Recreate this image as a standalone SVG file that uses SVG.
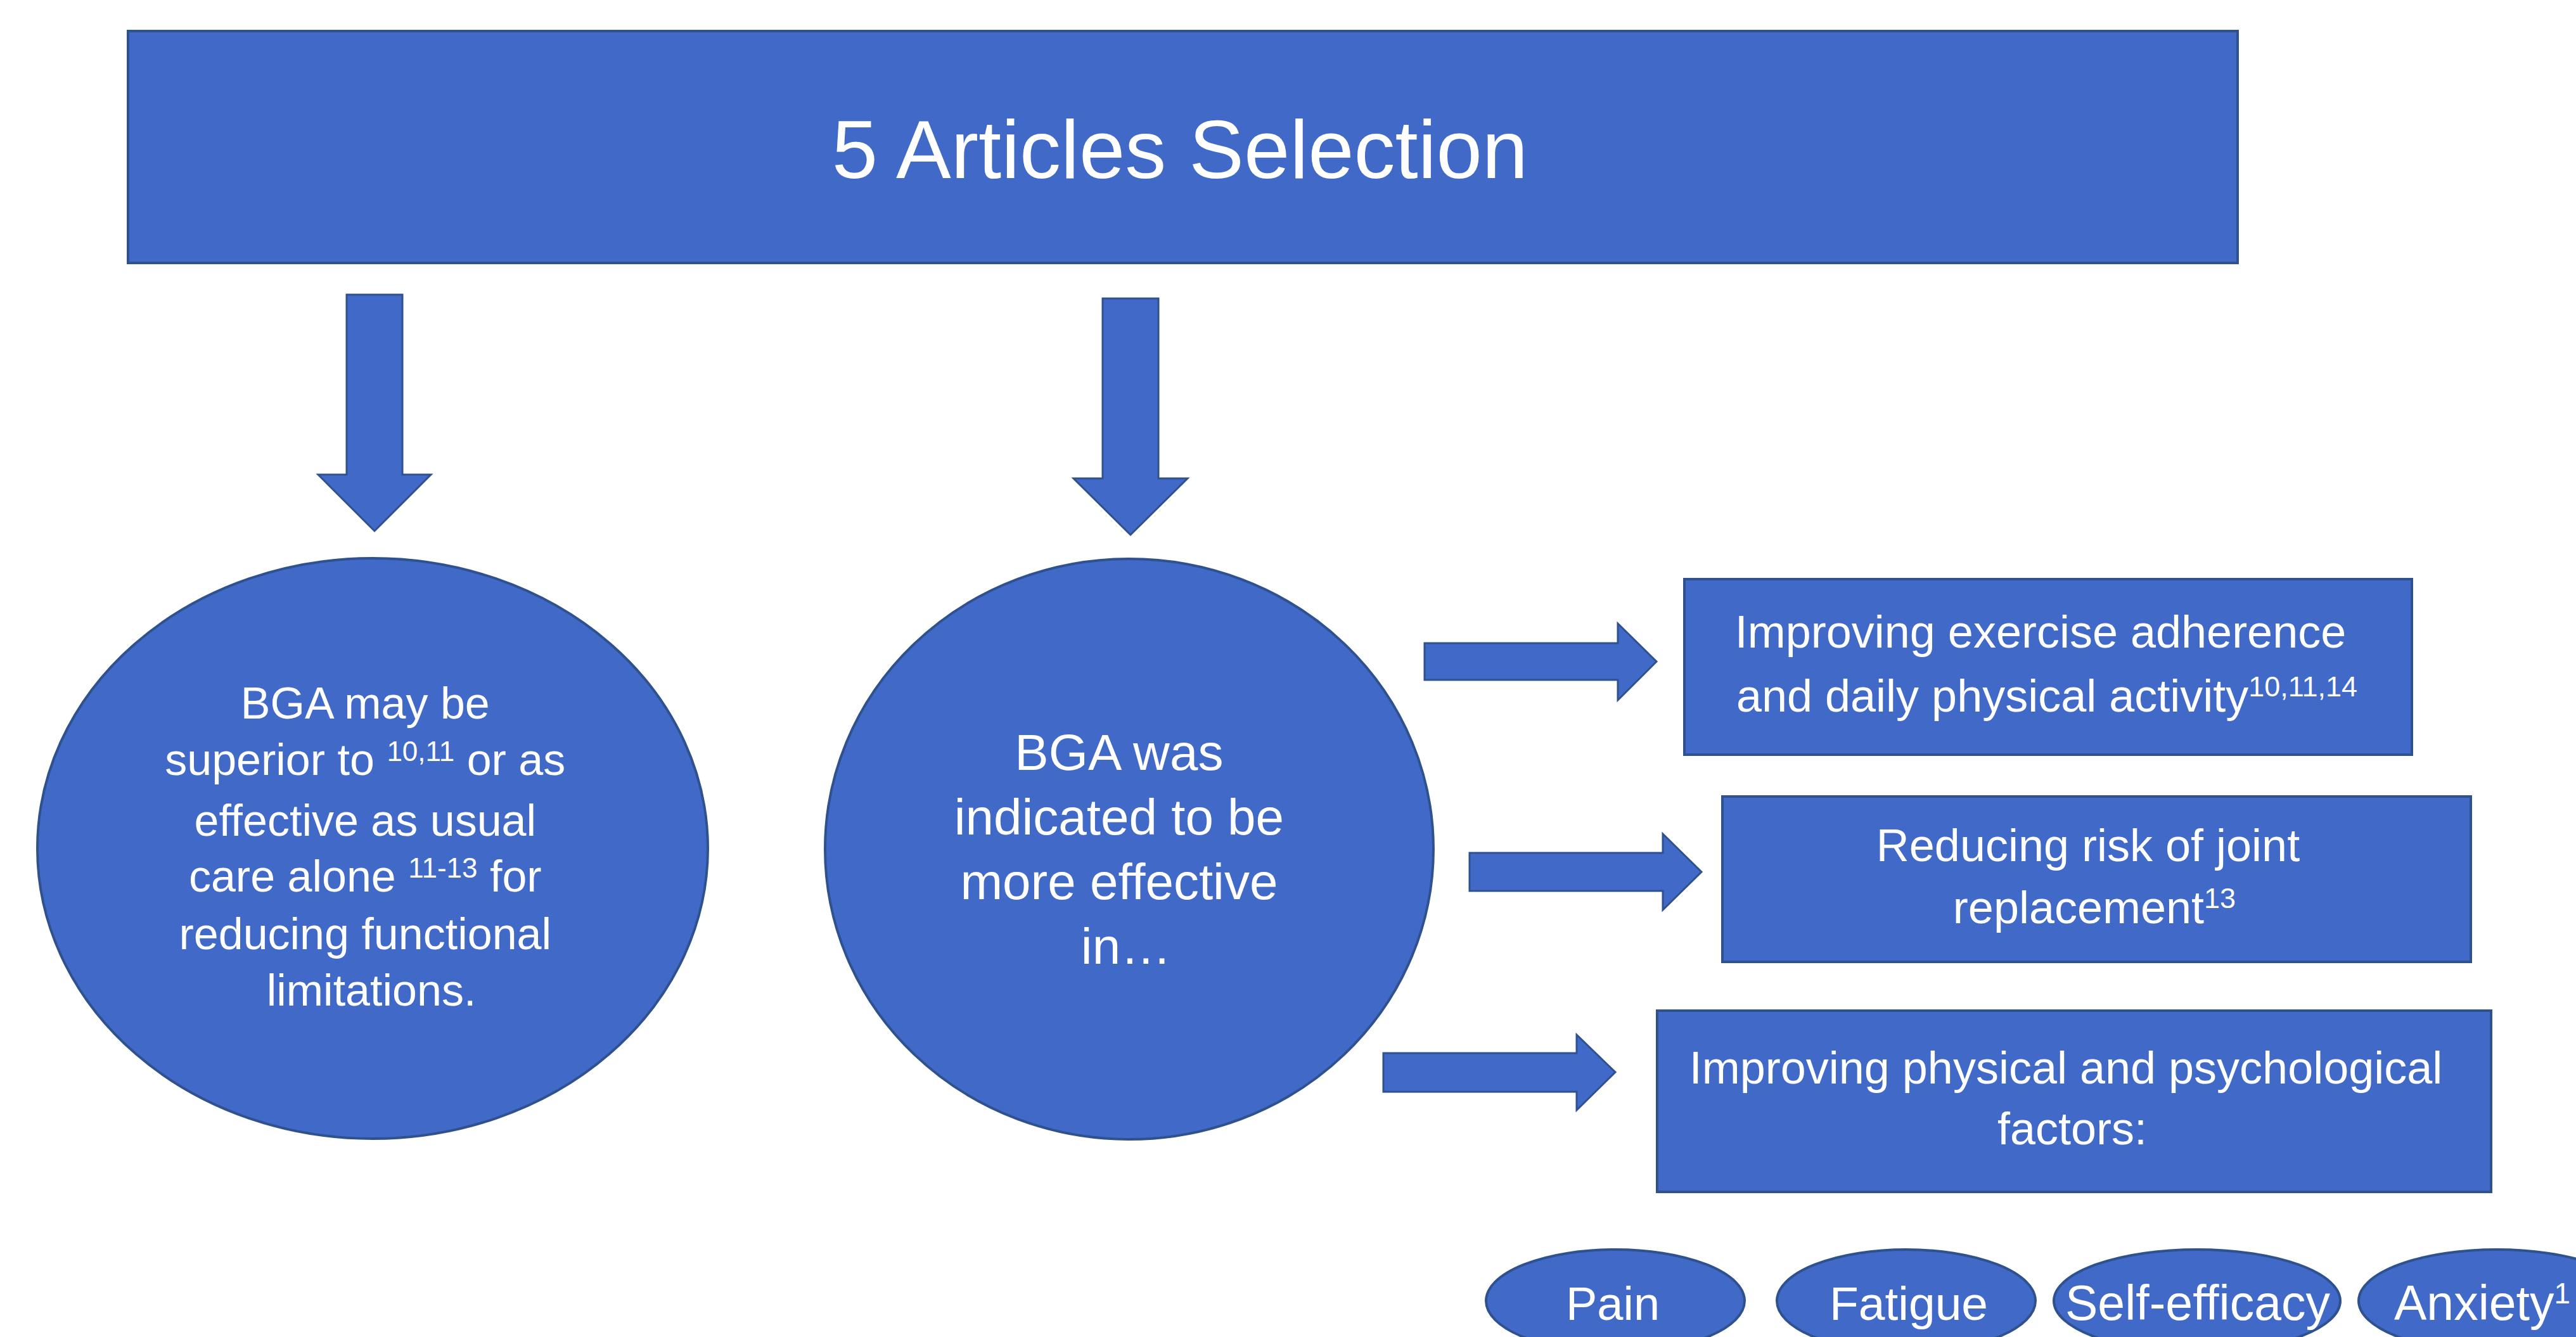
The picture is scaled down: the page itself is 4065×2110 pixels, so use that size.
<svg xmlns="http://www.w3.org/2000/svg" width="4065" height="2110" viewBox="0 0 4065 2110">
<style>
.shape{fill:#4169C8;stroke:#2F528F;stroke-width:4}
.arrow{fill:#4169C8;stroke:#2F528F;stroke-width:3}
.t{font-family:"Liberation Sans",Arial,sans-serif;fill:#FFFFFF;text-anchor:middle}
</style>
<rect width="4065" height="2110" fill="#FFFFFF"/>
<g id="title">
<rect class="shape" x="202" y="49" width="3329" height="366"/>
<text class="t" x="1862" y="281" font-size="130">5 Articles Selection</text>
</g>
<g id="connectors">
<polygon class="arrow" points="547,465 635,465 635,749 680,749 591,838 502,749 547,749"/>
<polygon class="arrow" points="1740,471 1828,471 1828,755 1874,755 1784,844 1694,755 1740,755"/>
<polygon class="arrow" points="2248,1015 2553,1015 2553,984 2614,1044 2553,1105 2553,1073 2248,1073"/>
<polygon class="arrow" points="2319,1346 2624,1346 2624,1316 2685,1376 2624,1436 2624,1406 2319,1406"/>
<polygon class="arrow" points="2183,1662 2488,1662 2488,1633 2549,1692 2488,1752 2488,1723 2183,1723"/>
</g>
<g id="bga-superior">
<ellipse class="shape" cx="588" cy="1339" rx="529" ry="458"/>
<text class="t" font-size="70">
<tspan x="586" y="1134">BGA may be</tspan>
<tspan x="586" y="1223">superior to <tspan dy="-22" font-size="44">10,11</tspan><tspan dy="22"> or as</tspan></tspan>
<tspan x="586" y="1319">effective as usual</tspan>
<tspan x="586" y="1407">care alone <tspan dy="-22" font-size="44">11-13</tspan><tspan dy="22"> for</tspan></tspan>
<tspan x="586" y="1498">reducing functional</tspan>
<tspan x="586" y="1587">limitations.</tspan>
</text>
</g>
<g id="bga-effective">
<ellipse class="shape" cx="1782" cy="1340" rx="480" ry="458"/>
<text class="t" font-size="80">
<tspan x="1777" y="1215">BGA was</tspan>
<tspan x="1777" y="1317">indicated to be</tspan>
<tspan x="1777" y="1419">more effective</tspan>
<tspan x="1777" y="1521">in…</tspan>
</text>
</g>
<g id="adherence">
<rect class="shape" x="2658" y="914" width="1148" height="277"/>
<text class="t" font-size="72">
<tspan x="3230" y="1022">Improving exercise adherence</tspan>
<tspan x="3230" y="1123">and daily physical activity<tspan dy="-24" font-size="45">10,11,14</tspan></tspan>
</text>
</g>
<g id="joint">
<rect class="shape" x="2718" y="1257" width="1181" height="261"/>
<text class="t" font-size="72">
<tspan x="3305" y="1359">Reducing risk of joint</tspan>
<tspan x="3305" y="1457">replacement<tspan dy="-24" font-size="45">13</tspan></tspan>
</text>
</g>
<g id="factors">
<rect class="shape" x="2615" y="1595" width="1316" height="286"/>
<text class="t" font-size="72">
<tspan x="3270" y="1710">Improving physical and psychological</tspan>
<tspan x="3270" y="1806">factors:</tspan>
</text>
</g>
<g id="pain">
<ellipse class="shape" cx="2549" cy="2053" rx="204" ry="81"/>
<text class="t" x="2545" y="2083" font-size="74">Pain</text>
</g>
<g id="fatigue">
<ellipse class="shape" cx="3008" cy="2053" rx="204" ry="81"/>
<text class="t" x="3012" y="2083" font-size="75">Fatigue</text>
</g>
<g id="self-efficacy">
<ellipse class="shape" cx="3467" cy="2053" rx="226" ry="81"/>
<text class="t" x="3468" y="2083" font-size="77">Self-efficacy</text>
</g>
<g id="anxiety">
<ellipse class="shape" cx="3940" cy="2053" rx="218" ry="81"/>
<text class="t" x="3778" y="2083" font-size="77" style="text-anchor:start">Anxiety<tspan dy="-26" font-size="46">1</tspan></text>
</g>
</svg>
